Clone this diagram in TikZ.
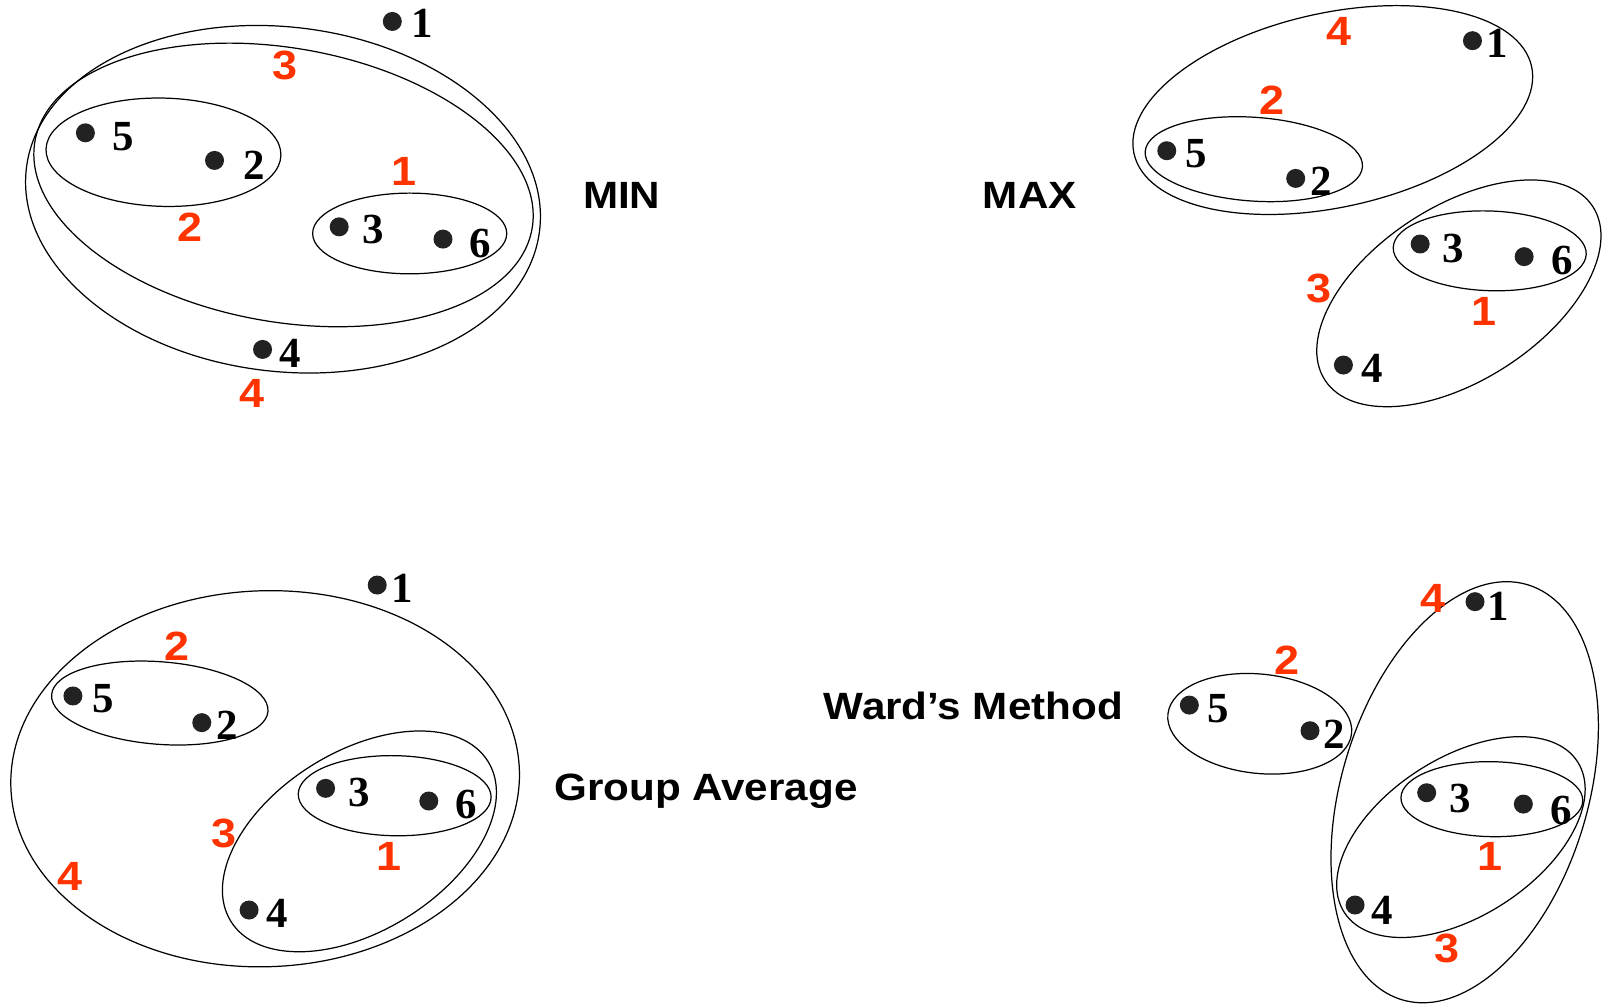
\documentclass[tikz,border=0pt]{standalone}
\usepackage{fontspec}
\usepackage{graphicx}
\setmainfont{Liberation Serif}
\newfontfamily\labelfont{Liberation Sans}
\definecolor{ordred}{RGB}{255,51,0}
\definecolor{dotgray}{RGB}{34,34,34}
\tikzset{
  ptdot/.style={circle, fill=dotgray, inner sep=0pt, minimum size=9.3pt},
  ptnum/.style={font=\fontsize{21}{21}\selectfont\bfseries, inner sep=0pt, text=black},
  ordnum/.style={font=\labelfont\fontsize{20}{20}\selectfont\bfseries, inner sep=0pt, text=ordred},
  title/.style={font=\labelfont\fontsize{18.6}{19}\selectfont\bfseries, inner sep=0pt, anchor=base},
  clus/.style={draw=black, line width=0.6pt}
}
\newcommand\clust[5]{\draw[clus, rotate around={#5:(#1,#2)}] (#1,#2) ellipse [x radius=#3, y radius=#4];}
\newcommand\sx[2]{\scalebox{#1}[1]{#2}}
\newcommand\pnt[5]{%
  \node[ptdot] (#1) at (#2) {};
  \node[ptnum] (#1l) at (#3) {#4};}
\newcommand\ord[3]{\node[ordnum] (#1) at (#2) {\sx{1.1}{#3}};}
\begin{document}
\begin{tikzpicture}[x=0.5pt, y=-0.5pt]
\useasboundingbox (0,0) rectangle (1568,982);
% ---------------- MIN ----------------
\clust{277}{195}{253}{168.5}{-7}
\clust{277.5}{181}{247}{134}{-10}
\clust{160}{149}{115}{53}{-1.5}
\clust{401}{228.5}{95}{39.5}{0}
\pnt{a1}{384,21}{413,23}{1}{}
\pnt{a5}{83.6,130}{121,134}{5}{}
\pnt{a2}{210,157}{249,161.5}{2}{}
\pnt{a3}{332,222}{365,225}{3}{}
\pnt{a6}{433.6,234}{470,238}{6}{}
\pnt{a4}{257,342}{284,346}{4}{}
\ord{ao3}{279,63.6}{3}
\ord{ao2}{186,222}{2}
\ord{ao1}{395.5,168}{1}
\ord{ao4}{247,385}{4}
\node[title] (tmin) at (608.5,204) {\sx{1.11}{MIN}};
% ---------------- MAX ----------------
\clust{1304.5}{107.7}{199.2}{95.1}{12.35}
\clust{1227.2}{155.8}{106.6}{41}{-4}
\clust{1427.9}{287.1}{156.2}{85.2}{32.9}
\clust{1458.1}{245.5}{94.5}{39}{-2}
\pnt{b1}{1441.2,39.8}{1465,42.4}{1}{}
\pnt{b5}{1142,147.5}{1171.3,150}{5}{}
\pnt{b2}{1268.2,174.6}{1292.7,177.8}{2}{}
\pnt{b3}{1390,238.8}{1422.6,243}{3}{}
\pnt{b6}{1491.8,251.2}{1528.6,254.5}{6}{}
\pnt{b4}{1314.9,357.3}{1342.6,360.5}{4}{}
\ord{bo4}{1311,31}{4}
\ord{bo2}{1244.8,97.9}{2}
\ord{bo1}{1452.9,305}{1}
\ord{bo3}{1291.4,282.2}{3}
\node[title] (tmax) at (1008,204) {\sx{1.11}{MAX}};
% ---------------- Group Average ----------------
\clust{259.5}{762.2}{249}{184}{2}
\clust{156.4}{688.1}{106.2}{40.4}{-4.4}
\clust{351.8}{823.5}{148.2}{87.7}{31.9}
\clust{386.3}{778.8}{94.4}{39.2}{-1}
\pnt{c1}{369.2,572.6}{393.6,575.8}{1}{}
\pnt{c5}{71.4,681.2}{101,683.5}{5}{}
\pnt{c2}{197.5,707.3}{222.2,709.6}{2}{}
\pnt{c3}{318.7,771.6}{351.8,775.8}{3}{}
\pnt{c6}{419.7,784}{456.3,787.9}{6}{}
\pnt{c4}{243.8,890.7}{271,894}{4}{}
\ord{co2}{173.1,632.3}{2}
\ord{co1}{380.7,837.8}{1}
\ord{co3}{219.4,815.7}{3}
\ord{co4}{69,857.4}{4}
\node[title] (tga) at (690.9,783.5) {\sx{1.11}{Group Average}};
% ---------------- Ward's Method ----------------
\clust{1433.6}{775.4}{212.2}{120.6}{73.1}
\clust{1233}{708.4}{90.4}{48.6}{-6}
\clust{1429.9}{819.3}{135.9}{77.3}{32.9}
\clust{1460.2}{782.2}{89}{36.7}{-1}
\pnt{d1}{1443.7,588.9}{1466.6,593.2}{1}{}
\pnt{d5}{1164.1,690.1}{1192.5,693.3}{5}{}
\pnt{d2}{1282.2,715.2}{1306,718.4}{2}{}
\pnt{d3}{1396.4,775.9}{1429,781.4}{3}{}
\pnt{d6}{1491,787}{1527.6,792.8}{6}{}
\pnt{d4}{1326.3,885.8}{1352.4,890.7}{4}{}
\ord{do4}{1402.3,585.6}{4}
\ord{do2}{1260,646}{2}
\ord{do1}{1458.4,838.5}{1}
\ord{do3}{1416,928.2}{3}
\node[title] (tward) at (952.7,704.5) {\sx{1.11}{Ward’s Method}};
\end{tikzpicture}
\end{document}
